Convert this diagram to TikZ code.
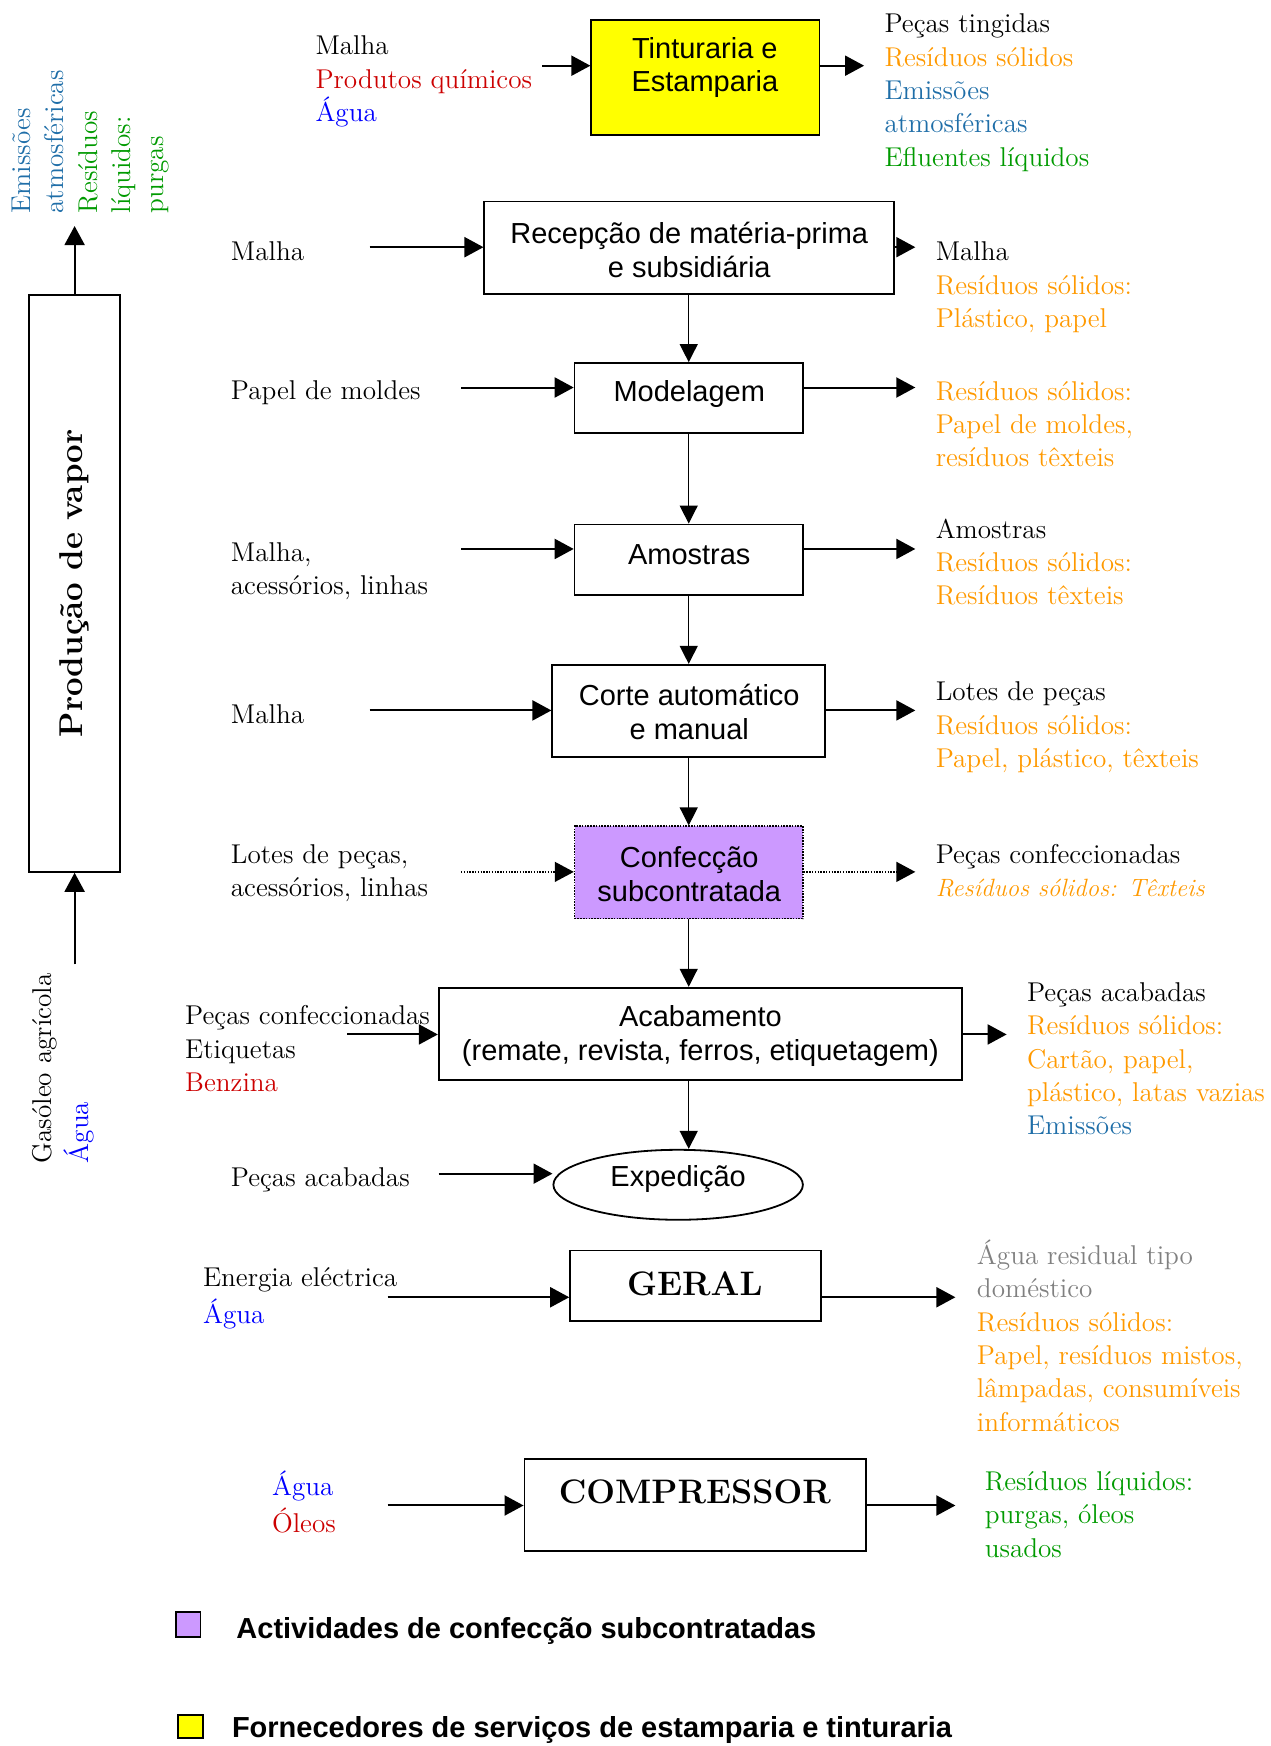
\documentclass[tikz,border=0pt]{standalone}
\usepackage{fontspec}
\setsansfont{Liberation Sans}
\usetikzlibrary{arrows.meta,fit,shapes.geometric}
\definecolor{orng}{HTML}{FF9900}
\definecolor{teal2}{HTML}{1F6EA8}
\definecolor{grn}{HTML}{009A00}
\definecolor{rd}{HTML}{CC0000}
\definecolor{blu}{HTML}{0000FF}
\definecolor{gry}{HTML}{808080}
\definecolor{lilac}{HTML}{CC99FF}
\definecolor{yel}{HTML}{FFFF00}
\newcommand{\myrm}{\fontsize{13.6}{16.7}\selectfont}
\newcommand{\mysf}{\sffamily\fontsize{14.5}{16.7}\selectfont}
\begin{document}
\begin{tikzpicture}[x=0.557pt, y=-0.557pt,
  box/.style={draw, line width=0.9pt, inner sep=0pt},
  sf/.style={font=\mysf, align=center, inner sep=0pt},
  rm/.style={font=\myrm, align=left, anchor=north west, inner sep=0pt},
  arr/.style={-{Triangle[length=9.5pt,width=10pt]}, line width=1pt},
  varr/.style={-{Triangle[length=9pt,width=9pt]}, line width=0.6pt},
  darr/.style={-{Triangle[length=9.5pt,width=10pt]}, line width=0.7pt, dash pattern=on 0.7pt off 0.7pt},
  bigb/.style={font=\bfseries\fontsize{17}{20}\selectfont, inner sep=0pt},
  leg/.style={anchor=west, inner sep=0pt, font=\sffamily\bfseries\fontsize{14.5}{17}\selectfont}
]
\useasboundingbox (0,0) rectangle (1141,1568);

% ---------- Tinturaria e Estamparia
\node[box, fill=yel, fit={(531,18)(736,121)}] (tint) {};
\node[sf] (tintT) at (633,60.5) {Tinturaria e\\Estamparia};
\coordinate (tintIn) at (487,59);
\coordinate (tintOut) at (776,59);
\draw[arr] (tintIn) -- (tintIn -| tint.west);
\draw[arr] (tintOut -| tint.east) -- (tintOut);
\node[rm] (tintL) at (283,28) {\strut Malha\\\textcolor{rd}{Produtos químicos}\\\textcolor{blu}{Água}};
\node[rm] (tintR) at (794,8) {\strut Peças tingidas\\\textcolor{orng}{Resíduos sólidos}\\\textcolor{teal2}{Emissões}\\\textcolor{teal2}{atmosféricas}\\\textcolor{grn}{Efluentes líquidos}};

% ---------- Recepção
\node[box, fit={(435,181)(803,264)}] (rec) {};
\node[sf] (recT) at (619,224.5) {Recepção de matéria-prima\\e subsidiária};
\coordinate (recIn) at (332,222);
\coordinate (recOut) at (822,222);
\draw[arr] (recIn) -- (recIn -| rec.west);
\draw[arr] (recOut -| rec.east) -- (recOut);
\node[rm] (recL) at (207,213) {\strut Malha};
\node[rm] (recR) at (840,213) {\strut Malha\\\textcolor{orng}{Resíduos sólidos:}\\\textcolor{orng}{Plástico, papel}};

% ---------- Modelagem
\node[box, fit={(516,326)(721,389)}] (mod) {};
\node[sf] (modT) at (619,354) {Modelagem};
\coordinate (modIn) at (414,348);
\coordinate (modOut) at (822,348);
\draw[arr] (modIn) -- (modIn -| mod.west);
\draw[arr] (modOut -| mod.east) -- (modOut);
\node[rm] (modL) at (207,337) {\strut Papel de moldes};
\node[rm] (modR) at (840,338) {\strut\textcolor{orng}{Resíduos sólidos:}\\\textcolor{orng}{Papel de moldes,}\\\textcolor{orng}{resíduos têxteis}};

% ---------- Amostras
\node[box, fit={(516,471)(721,534)}] (amo) {};
\node[sf] (amoT) at (619,498.5) {Amostras};
\coordinate (amoIn) at (414,493);
\coordinate (amoOut) at (822,493);
\draw[arr] (amoIn) -- (amoIn -| amo.west);
\draw[arr] (amoOut -| amo.east) -- (amoOut);
\node[rm] (amoL) at (207,483) {\strut Malha,\\acessórios, linhas};
\node[rm] (amoR) at (840,462) {\strut Amostras\\\textcolor{orng}{Resíduos sólidos:}\\\textcolor{orng}{Resíduos têxteis}};

% ---------- Corte
\node[box, fit={(496,597)(741,680)}] (cor) {};
\node[sf] (corT) at (619,639.5) {Corte automático\\e manual};
\coordinate (corIn) at (332,638);
\coordinate (corOut) at (822,638);
\draw[arr] (corIn) -- (corIn -| cor.west);
\draw[arr] (corOut -| cor.east) -- (corOut);
\node[rm] (corL) at (207,628) {\strut Malha};
\node[rm] (corR) at (840,608) {\strut Lotes de peças\\\textcolor{orng}{Resíduos sólidos:}\\\textcolor{orng}{Papel, plástico, têxteis}};

% ---------- Confecção subcontratada
\node[box, fill=lilac, line width=0.8pt, dash pattern=on 0.8pt off 0.6pt, fit={(516,742)(721,825)}] (con) {};
\node[sf] (conT) at (619,785) {Confecção\\subcontratada};
\coordinate (conIn) at (414,783);
\coordinate (conOut) at (822,783);
\draw[darr] (conIn) -- (conIn -| con.west);
\draw[darr] (conOut -| con.east) -- (conOut);
\node[rm] (conL) at (207,754) {\strut Lotes de peças,\\acessórios, linhas};
\node[rm] (conR) at (840,754) {\strut Peças confeccionadas\\\textcolor{orng}{\itshape\fontsize{12.5}{16.7}\selectfont Resíduos sólidos: Têxteis}};

% ---------- Acabamento
\node[box, fit={(394,887)(864,970)}] (aca) {};
\node[sf] (acaT) at (629,930.5) {Acabamento\\(remate, revista, ferros, etiquetagem)};
\coordinate (acaIn) at (312,929);
\coordinate (acaOut) at (904,929);
\draw[arr] (acaIn) -- (acaIn -| aca.west);
\draw[arr] (acaOut -| aca.east) -- (acaOut);
\node[rm] (acaL) at (166,899) {\strut Peças confeccionadas\\Etiquetas\\\textcolor{rd}{Benzina}};
\node[rm] (acaR) at (922,878) {\strut Peças acabadas\\\textcolor{orng}{Resíduos sólidos:}\\\textcolor{orng}{Cartão, papel,}\\\textcolor{orng}{plástico, latas vazias}\\\textcolor{teal2}{Emissões}};

% ---------- Expedição
\node[draw, ellipse, line width=0.9pt, inner sep=0pt, minimum width=124.8pt, minimum height=35pt] (exp) at (609,1064) {};
\node[sf] (expT) at (609,1059) {Expedição};
\coordinate (expIn) at (394,1054);
\draw[arr] (expIn) -- (expIn -| exp.west);
\node[rm] (expL) at (207,1044) {\strut Peças acabadas};

% ---------- vertical flow
\draw[varr] (rec.south -| mod.north) -- (mod.north);
\draw[varr] (mod.south) -- (amo.north);
\draw[varr] (amo.south) -- (amo.south |- cor.north);
\draw[varr] (cor.south -| con.north) -- (con.north);
\draw[varr] (con.south) -- (con.south |- aca.north);
\draw[varr] (con.south |- aca.south) -- (con.south |- exp.north);

% ---------- GERAL
\node[box, fit={(512,1123)(737,1186)}] (ger) {};
\node[bigb] (gerT) at (624,1153) {GERAL};
\coordinate (gerIn) at (348,1165);
\coordinate (gerOut) at (858,1165);
\draw[arr] (gerIn) -- (gerIn -| ger.west);
\draw[arr] (gerOut -| ger.east) -- (gerOut);
\node[rm] (gerL) at (182,1134) {\strut Energia eléctrica\\\textcolor{blu}{Água}};
\node[rm] (gerR) at (877,1113) {\strut\textcolor{gry}{Água residual tipo}\\\textcolor{gry}{doméstico}\\\textcolor{orng}{Resíduos sólidos:}\\\textcolor{orng}{Papel, resíduos mistos,}\\\textcolor{orng}{lâmpadas, consumíveis}\\\textcolor{orng}{informáticos}};

% ---------- COMPRESSOR
\node[box, fit={(471,1310)(778,1393)}] (cmp) {};
\node[bigb] (cmpT) at (624,1340) {COMPRESSOR};
\coordinate (cmpIn) at (348,1352);
\coordinate (cmpOut) at (858,1352);
\draw[arr] (cmpIn) -- (cmpIn -| cmp.west);
\draw[arr] (cmpOut -| cmp.east) -- (cmpOut);
\node[rm] (cmpL) at (244,1321) {\strut\textcolor{blu}{Água}\\\textcolor{rd}{Óleos}};
\node[rm] (cmpR) at (884,1317) {\strut\textcolor{grn}{Resíduos líquidos:}\\\textcolor{grn}{purgas, óleos}\\\textcolor{grn}{usados}};

% ---------- Produção de vapor
\node[box, fit={(26,265)(108,783)}] (vap) {};
\node[rotate=90, inner sep=0pt, font=\bfseries\fontsize{16.5}{19}\selectfont] (vapT) at (67,524) {Produção de vapor};
\coordinate (vapTop) at (67,203);
\coordinate (vapBot) at (67,866);
\draw[arr] (vap.north) -- (vapTop);
\draw[arr] (vapBot) -- (vap.south);
\node[rm, rotate=90] (vapR) at (6,192) {\strut\textcolor{teal2}{Emissões}\\\textcolor{teal2}{atmosféricas}\\\textcolor{grn}{Resíduos}\\\textcolor{grn}{líquidos:}\\\textcolor{grn}{purgas}};
\node[rm, rotate=90] (vapL) at (25,1045) {\strut Gasóleo agrícola\\\textcolor{blu}{Água}};

% ---------- legend
\node[draw, line width=0.9pt, fill=lilac, inner sep=0pt, fit={(158,1448)(180,1470)}] (legP) {};
\node[leg] (legPT) at (212,1465) {Actividades de confecção subcontratadas};
\node[draw, line width=0.9pt, fill=yel, inner sep=0pt, fit={(160,1540)(182,1561)}] (legY) {};
\node[leg] (legYT) at (208,1554) {Fornecedores de serviços de estamparia e tinturaria};
\end{tikzpicture}
\end{document}
